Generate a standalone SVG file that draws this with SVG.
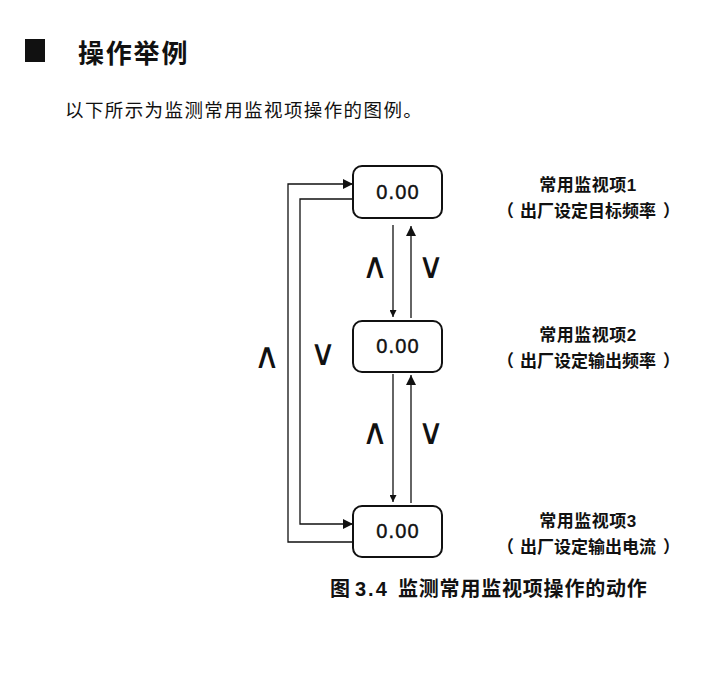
<svg xmlns="http://www.w3.org/2000/svg" width="727" height="680" viewBox="0 0 727 680">
<defs>
<style>
.cjk{font-family:"Liberation Sans","Noto Sans CJK SC",sans-serif;fill:#111}
.box{fill:#fff;stroke:#111;stroke-width:2}
.val{font-family:"Liberation Sans","Arial",sans-serif;font-size:20px;fill:#111;stroke:#111;stroke-width:0.4;text-anchor:middle;letter-spacing:1.2px}
.lbl{font-size:17px;font-weight:bold}
.l1{text-anchor:middle;letter-spacing:0.5px}
.key{font-family:"DejaVu Sans",sans-serif;font-size:36px;fill:#111;text-anchor:middle}
.wire{fill:none;stroke:#111;stroke-width:1.3}
</style>
<marker id="ahv" viewBox="0 0 10 10" refX="10" refY="5" markerWidth="9" markerHeight="7" markerUnits="userSpaceOnUse" orient="auto">
<path d="M0,0 L10,5 L0,10 Z" fill="#111"/>
</marker>
<marker id="ahb" viewBox="0 0 10 10" refX="10" refY="5" markerWidth="14" markerHeight="10" markerUnits="userSpaceOnUse" orient="auto">
<path d="M0,0 L10,5 L0,10 Z" fill="#111"/>
</marker>
</defs>
<rect width="727" height="680" fill="#fff"/>
<g id="header">
<rect x="25" y="39" width="20" height="23" fill="#111"/>
<text class="cjk" x="78" y="63" font-size="26px" font-weight="bold" letter-spacing="1.8">操作举例</text>
<text class="cjk" x="65" y="117" font-size="18.5px" letter-spacing="1.4" fill="#222">以下所示为监测常用监视项操作的图例。</text>
</g>
<g id="connectors">
<path class="wire" d="M353,542 H288 V184 H353" marker-end="url(#ahb)"/>
<path class="wire" d="M353,199 H300 V524 H353" marker-end="url(#ahb)"/>
<path class="wire" d="M393,225 V317" marker-end="url(#ahv)"/>
<path class="wire" d="M411,318 V226" marker-end="url(#ahb)"/>
<path class="wire" d="M393,374 V502" marker-end="url(#ahv)"/>
<path class="wire" d="M411,503 V375" marker-end="url(#ahb)"/>
<text class="key" x="375" y="278">∧</text>
<text class="key" x="431" y="278">∨</text>
<text class="key" x="375" y="444">∧</text>
<text class="key" x="431" y="444">∨</text>
<text class="key" x="267" y="368">∧</text>
<text class="key" x="323" y="365">∨</text>
</g>
<g id="node1">
<rect class="box" x="353" y="166" width="89" height="52" rx="9"/>
<text class="val" x="398" y="199">0.00</text>
<text class="cjk lbl l1" x="588" y="191">常用监视项1</text>
<text class="cjk lbl" x="497" y="217">（<tspan dx="6">出厂设定目标频率</tspan><tspan dx="7">）</tspan></text>
</g>
<g id="node2">
<rect class="box" x="353" y="321" width="89" height="51" rx="9"/>
<text class="val" x="398" y="353">0.00</text>
<text class="cjk lbl l1" x="588" y="341">常用监视项2</text>
<text class="cjk lbl" x="497" y="367">（<tspan dx="6">出厂设定输出频率</tspan><tspan dx="7">）</tspan></text>
</g>
<g id="node3">
<rect class="box" x="353" y="506" width="89" height="51" rx="9"/>
<text class="val" x="398" y="538">0.00</text>
<text class="cjk lbl l1" x="588" y="527">常用监视项3</text>
<text class="cjk lbl" x="497" y="553">（<tspan dx="6">出厂设定输出电流</tspan><tspan dx="7">）</tspan></text>
</g>
<g id="caption">
<text class="cjk" y="596" font-size="20px" font-weight="bold"><tspan x="330">图</tspan><tspan x="355" letter-spacing="2">3.4</tspan><tspan x="398" letter-spacing="0.8">监测常用监视项操作的动作</tspan></text>
</g>
</svg>
